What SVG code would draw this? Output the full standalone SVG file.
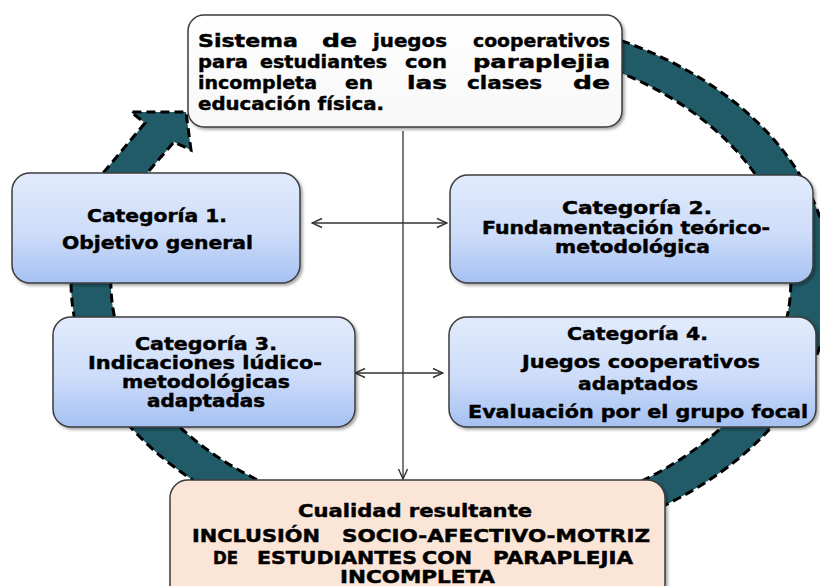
<svg xmlns="http://www.w3.org/2000/svg" width="820" height="586" viewBox="0 0 820 586">
<defs>
<linearGradient id="blue" x1="0" y1="0" x2="0" y2="1">
<stop offset="0" stop-color="#e1ebfc"/>
<stop offset="0.55" stop-color="#cddcf9"/>
<stop offset="1" stop-color="#a5c1f2"/>
</linearGradient>
<linearGradient id="white" x1="0" y1="0" x2="0" y2="1">
<stop offset="0" stop-color="#ffffff"/>
<stop offset="1" stop-color="#f7f7f7"/>
</linearGradient>
<filter id="sh" x="-5%" y="-5%" width="112%" height="115%">
<feDropShadow dx="2" dy="2" stdDeviation="1.5" flood-color="#000" flood-opacity="0.35"/>
</filter>
<marker id="ah" viewBox="0 0 12 12" refX="11" refY="6" markerWidth="12" markerHeight="12" markerUnits="userSpaceOnUse" orient="auto-start-reverse">
<path d="M1,1.5 L11,6 L1,10.5" fill="none" stroke="#333" stroke-width="1.4"/>
</marker>
</defs>
<style>
.box{stroke:#3c3c3c;stroke-width:1.5;filter:url(#sh)}
.blue{fill:url(#blue)}
.t{font-family:"DejaVu Sans",Verdana,sans-serif;font-weight:bold;font-size:18px;fill:#000;stroke:#000;stroke-width:0.45}
.s{font-size:17px}
.c{fill:none;stroke:#333;stroke-width:1.3}
.ring{fill:#215b68;stroke:#000;stroke-width:3;stroke-dasharray:9 5}
</style>
<rect width="820" height="586" fill="#fff"/>

<g id="cycle-arrow">
<path class="ring" d="M540,19.5 A380,270 0 1 1 104,172 L145,123 L131,112 L186,112 L191,150 L174,142 L148,172 A340,241 0 1 0 540,49 Z"/>
</g>

<g id="connectors">
<line class="c" x1="403" y1="131" x2="403" y2="479" marker-end="url(#ah)"/>
<line class="c" x1="312" y1="223" x2="447" y2="223" marker-start="url(#ah)" marker-end="url(#ah)"/>
<line class="c" x1="355" y1="373" x2="443" y2="373" marker-start="url(#ah)" marker-end="url(#ah)"/>
</g>

<g id="sistema">
<rect class="box" x="188" y="15" width="434" height="112" rx="16" fill="url(#white)"/>
<text class="t"><tspan x="198" y="47" textLength="100" lengthAdjust="spacingAndGlyphs">Sistema</tspan> <tspan x="322" y="47" textLength="35" lengthAdjust="spacingAndGlyphs">de</tspan> <tspan x="373" y="47" textLength="74" lengthAdjust="spacingAndGlyphs">juegos</tspan> <tspan x="473" y="47" textLength="137" lengthAdjust="spacingAndGlyphs">cooperativos</tspan></text>
<text class="t"><tspan x="198" y="68" textLength="50" lengthAdjust="spacingAndGlyphs">para</tspan> <tspan x="260" y="68" textLength="127" lengthAdjust="spacingAndGlyphs">estudiantes</tspan> <tspan x="405" y="68" textLength="42" lengthAdjust="spacingAndGlyphs">con</tspan> <tspan x="473" y="68" textLength="137" lengthAdjust="spacingAndGlyphs">paraplejia</tspan></text>
<text class="t"><tspan x="198" y="89" textLength="119" lengthAdjust="spacingAndGlyphs">incompleta</tspan> <tspan x="345" y="89" textLength="28" lengthAdjust="spacingAndGlyphs">en</tspan> <tspan x="407" y="89" textLength="40" lengthAdjust="spacingAndGlyphs">las</tspan> <tspan x="467" y="89" textLength="75" lengthAdjust="spacingAndGlyphs">clases</tspan> <tspan x="573" y="89" textLength="37" lengthAdjust="spacingAndGlyphs">de</tspan></text>
<text class="t" x="198" y="110" textLength="186" lengthAdjust="spacingAndGlyphs">educación física.</text>
</g>

<g id="cat1">
<rect class="box blue" x="12" y="173" width="288" height="110" rx="18"/>
<text class="t" x="87" y="222" textLength="140" lengthAdjust="spacingAndGlyphs">Categoría 1.</text>
<text class="t" x="62" y="249" textLength="191" lengthAdjust="spacingAndGlyphs">Objetivo general</text>
</g>

<g id="cat2">
<rect class="box blue" x="450" y="175" width="363" height="108" rx="18"/>
<text class="t s" x="562" y="214" textLength="150" lengthAdjust="spacingAndGlyphs">Categoría 2.</text>
<text class="t s" x="482" y="233.5" textLength="288" lengthAdjust="spacingAndGlyphs">Fundamentación teórico-</text>
<text class="t s" x="555" y="253" textLength="155" lengthAdjust="spacingAndGlyphs">metodológica</text>
</g>

<g id="cat3">
<rect class="box blue" x="53" y="317" width="302" height="110" rx="18"/>
<text class="t s" x="135" y="350" textLength="142" lengthAdjust="spacingAndGlyphs">Categoría 3.</text>
<text class="t s" x="88" y="369" textLength="234" lengthAdjust="spacingAndGlyphs">Indicaciones lúdico-</text>
<text class="t s" x="122" y="388" textLength="168" lengthAdjust="spacingAndGlyphs">metodológicas</text>
<text class="t s" x="147" y="407" textLength="118" lengthAdjust="spacingAndGlyphs">adaptadas</text>
</g>

<g id="cat4">
<rect class="box blue" x="449" y="317" width="367" height="110" rx="18"/>
<text class="t" x="567" y="340" textLength="141" lengthAdjust="spacingAndGlyphs">Categoría 4.</text>
<text class="t" x="522" y="368" textLength="238" lengthAdjust="spacingAndGlyphs">Juegos cooperativos</text>
<text class="t" x="578" y="390" textLength="120" lengthAdjust="spacingAndGlyphs">adaptados</text>
<text class="t" x="468" y="418" textLength="340" lengthAdjust="spacingAndGlyphs">Evaluación por el grupo focal</text>
</g>

<g id="cualidad">
<rect class="box" x="170" y="480" width="495" height="125" rx="18" fill="#fbe5d6"/>
<text class="t" x="298" y="517" textLength="234" lengthAdjust="spacingAndGlyphs">Cualidad resultante</text>
<text class="t s"><tspan x="192" y="542" textLength="128" lengthAdjust="spacingAndGlyphs">INCLUSIÓN</tspan> <tspan x="342" y="542" textLength="308" lengthAdjust="spacingAndGlyphs">SOCIO-AFECTIVO-MOTRIZ</tspan></text>
<text class="t s"><tspan x="213" y="564" textLength="25" lengthAdjust="spacingAndGlyphs">DE</tspan> <tspan x="257" y="564" textLength="160" lengthAdjust="spacingAndGlyphs">ESTUDIANTES</tspan> <tspan x="422" y="564" textLength="50" lengthAdjust="spacingAndGlyphs">CON</tspan> <tspan x="493" y="564" textLength="140" lengthAdjust="spacingAndGlyphs">PARAPLEJIA</tspan></text>
<text class="t s" x="340" y="583" textLength="155" lengthAdjust="spacingAndGlyphs">INCOMPLETA</text>
</g>
</svg>
